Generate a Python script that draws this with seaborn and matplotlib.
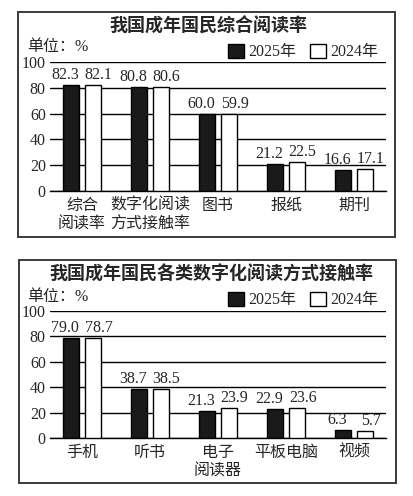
import matplotlib
matplotlib.use("Agg")
import matplotlib.pyplot as plt
from matplotlib.patches import Rectangle
import seaborn as sns
import pandas as pd

# ---- data ----
title1 = "我国成年国民综合阅读率"
cats1 = ["综合\n阅读率", "数字化阅读\n方式接触率", "图书", "报纸", "期刊"]
v2025_1 = [82.3, 80.8, 60.0, 21.2, 16.6]
v2024_1 = [82.1, 80.6, 59.9, 22.5, 17.1]

title2 = "我国成年国民各类数字化阅读方式接触率"
cats2 = ["手机", "听书", "电子\n阅读器", "平板电脑", "视频"]
v2025_2 = [79.0, 38.7, 21.3, 22.9, 6.3]
v2024_2 = [78.7, 38.5, 23.9, 23.6, 5.7]

years = ["2025年", "2024年"]
yticks = [0, 20, 40, 60, 80, 100]
unit_text = "单位：%"

sns.set_style("white")
plt.rcParams["font.family"] = ["Liberation Serif", "Noto Sans CJK SC"]
plt.rcParams["axes.unicode_minus"] = False

W, H = 414, 496
fig = plt.figure(figsize=(W / 100, H / 100), dpi=100)

def fx(px):
    return px / W

def fy(py):
    return 1 - py / H

palette = {years[0]: "#1a1a1a", years[1]: "white"}


def panel(cats, a, b, title, box, ax_rect, title_xy, unit_y, leg_y):
    # frame box
    x0, y0, x1, y1 = box
    fig.add_artist(Rectangle((fx(x0), fy(y1)), fx(x1) - fx(x0), fy(y0) - fy(y1),
                             transform=fig.transFigure, fill=False, lw=1.4, ec="#3a3a3a"))
    l, r, top, bot = ax_rect
    ax = fig.add_axes([fx(l), fy(bot), fx(r) - fx(l), fy(top) - fy(bot)])
    df = pd.DataFrame({
        "cat": cats * 2,
        "val": a + b,
        "year": [years[0]] * len(cats) + [years[1]] * len(cats),
    })
    sns.barplot(data=df, x="cat", y="val", hue="year", hue_order=years,
                palette=palette, edgecolor="black", linewidth=1.0,
                width=0.65, gap=0.27, ax=ax, zorder=3)
    ax.set_ylim(0, 100)
    ax.set_xlim(-0.47, len(cats) - 0.53)
    ax.set_yticks(yticks)
    ax.yaxis.grid(True, color="black", lw=1.0)
    ax.set_axisbelow(True)
    for s in ["top", "right", "left"]:
        ax.spines[s].set_visible(False)
    ax.spines["bottom"].set_color("black")
    ax.spines["bottom"].set_linewidth(1.0)
    ax.tick_params(axis="y", length=0, pad=3, labelsize=11.5)
    ax.tick_params(axis="x", length=0, pad=5, labelsize=11.5)
    ax.set_xlabel("")
    ax.set_ylabel("")
    for lab in ax.get_xticklabels():
        lab.set_linespacing(1.25)
    # value labels
    for ci, cont in enumerate(ax.containers):
        dx = -4 if ci == 0 else 4
        for rect in cont:
            h = rect.get_height()
            ax.annotate(f"{h:.1f}", (rect.get_x() + rect.get_width() / 2, h),
                        xytext=(dx, 1.5), textcoords="offset points",
                        ha="center", va="bottom", fontsize=11.5)
    sns.move_legend(ax, loc="center right", bbox_to_anchor=(1.02, leg_y),
                    ncol=2, frameon=False, title=None, fontsize=11.5,
                    handlelength=1.0, handleheight=1.0, handletextpad=0.25,
                    columnspacing=0.9)
    fig.text(fx(title_xy[0]), fy(title_xy[1]), title, ha="center", va="center",
             fontsize=13, fontweight="bold")
    fig.text(fx(27), fy(unit_y), unit_text, ha="left", va="center", fontsize=11.5)
    return ax


panel(cats1, v2025_1, v2024_1, title1, (18, 12, 395, 237), (50, 386, 62, 191),
      (208, 27), 47, (191 - 52) / 129)
panel(cats2, v2025_2, v2024_2, title2, (19, 260, 396, 483), (50, 386, 311, 438),
      (211, 275), 297, (438 - 300) / 127)

fig.savefig("out.png", dpi=100)
